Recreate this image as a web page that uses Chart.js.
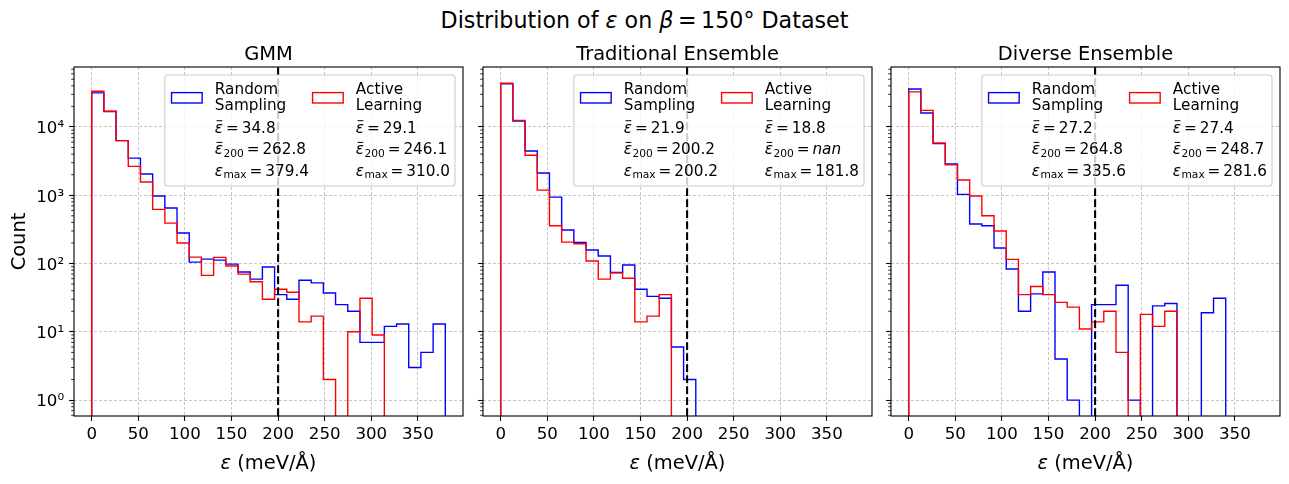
<!DOCTYPE html>
<html>
<head>
<meta charset="utf-8">
<script src="https://cdn.jsdelivr.net/npm/chart.js@4/dist/chart.umd.min.js"></script>
<style>
html, body { margin: 0; padding: 0; background: #fff; }
#wrap { position: relative; width: 1289px; height: 484px; overflow: hidden; background: #fff; font-family: "DejaVu Sans"; }
#wrap canvas { position: absolute; left: 0; top: 0; }
#sup { position: absolute; left: 0; top: 6.6px; width: 1289px; text-align: center; font-size: 22.2px; line-height: 26px; color: #000; white-space: nowrap; }
#sup .eq { margin: 0 4.5px; }
</style>
</head>
<body>
<div id="wrap">
  <div id="sup">Distribution of <i>ε</i> on <i>β</i><span class="eq">=</span>150° Dataset</div>
  <canvas id="c0" width="1289" height="484"></canvas>
  <canvas id="c1" width="1289" height="484"></canvas>
  <canvas id="c2" width="1289" height="484"></canvas>
</div>
<script>
// ---------------- data ----------------
const BIN_EDGES = [0, 13.08, 26.17, 39.25, 52.33, 65.41, 78.50, 91.58, 104.66, 117.74, 130.83,
  143.91, 156.99, 170.08, 183.16, 196.24, 209.32, 222.41, 235.49, 248.57, 261.66, 274.74,
  287.82, 300.90, 313.99, 327.07, 340.15, 353.23, 366.32, 379.40];

const PANEL_TITLES = ['GMM', 'Traditional Ensemble', 'Diverse Ensemble'];
const SERIES_NAMES = [['Random', 'Sampling'], ['Active', 'Learning']];
const SERIES_COLORS = ['#0000ff', '#ff0000'];

// counts per bin (29 bins)
const GMM_RANDOM = [31500, 16800, 6300, 3500, 2050, 975, 650, 280, 105, 116, 112, 98, 75, 59, 89,
  35, 30, 57, 52, 37, 25, 20, 7, 7, 12, 13, 3, 5, 13];
const GMM_ACTIVE = [33300, 17000, 6300, 2650, 1560, 620, 390, 200, 124, 67, 123, 92, 70, 54, 30,
  42, 38, 14, 17, 2, 0, 10, 31, 9, 0, 0, 0, 0, 0];
const TRAD_RANDOM = [42700, 12250, 4450, 2120, 940, 310, 204, 158, 129, 74, 95, 42, 33, 31, 6,
  2, 0, 0, 0, 0, 0, 0, 0, 0, 0, 0, 0, 0, 0];
const TRAD_ACTIVE = [43600, 12500, 3850, 1190, 358, 206, 195, 109, 59, 73, 61, 14, 17, 35, 0,
  0, 0, 0, 0, 0, 0, 0, 0, 0, 0, 0, 0, 0, 0];
const DIV_RANDOM = [36000, 16000, 5700, 2870, 1030, 380, 358, 169, 83, 20, 36, 75, 4, 1, 0,
  25, 25, 48, 1, 0, 24, 26, 0, 0, 19, 31, 0, 0, 0];
const DIV_ACTIVE = [32600, 17500, 5830, 2780, 1670, 975, 500, 299, 115, 35, 46, 35, 27, 23, 11,
  14, 20, 5, 0, 18, 12, 20, 0, 0, 0, 0, 0, 0, 0];

// legend statistics: [mean, mean above 200, max]
const GMM_STATS_RANDOM = ['34.8', '262.8', '379.4'];
const GMM_STATS_ACTIVE = ['29.1', '246.1', '310.0'];
const TRAD_STATS_RANDOM = ['21.9', '200.2', '200.2'];
const TRAD_STATS_ACTIVE = ['18.8', 'nan', '181.8'];
const DIV_STATS_RANDOM = ['27.2', '264.8', '335.6'];
const DIV_STATS_ACTIVE = ['27.4', '248.7', '281.6'];

const THRESHOLD = 200;
const X_TICKS = [0, 50, 100, 150, 200, 250, 300, 350];
const X_TICK_LABELS = ['0', '50', '100', '150', '200', '250', '300', '350'];
const Y_TICKS = [1, 10, 100, 1000, 10000];
const Y_TICK_LABELS = ['10\u2070', '10\u00b9', '10\u00b2', '10\u00b3', '10\u2074'];

const X_MIN = -18.97, X_MAX = 398.37;
const Y_MIN = 0.585, Y_MAX = 75500;

// ---------------- layout ----------------
const FONT = '"DejaVu Sans"';
const TICK_PX = 16.67, LEGEND_PX = 15.28, TITLE_PX = 19.44;
const PANELS = [
  {L: 74, R: 463, random: GMM_RANDOM, active: GMM_ACTIVE, sr: GMM_STATS_RANDOM, sa: GMM_STATS_ACTIVE},
  {L: 483, R: 872, random: TRAD_RANDOM, active: TRAD_ACTIVE, sr: TRAD_STATS_RANDOM, sa: TRAD_STATS_ACTIVE},
  {L: 891, R: 1280, random: DIV_RANDOM, active: DIV_ACTIVE, sr: DIV_STATS_RANDOM, sa: DIV_STATS_ACTIVE}
];
const TOP = 67, BOTTOM = 416, W = 1289, H = 484;
const Y_AXIS_W = 60, X_AXIS_H = 40;
const FLOOR = Y_MIN / 10;

function stepPoints(counts) {
  const pts = [{x: BIN_EDGES[0], y: FLOOR}];
  counts.forEach((c, i) => pts.push({x: BIN_EDGES[i], y: c > 0 ? c : FLOOR}));
  pts.push({x: BIN_EDGES[counts.length], y: FLOOR});
  return pts;
}

const SUBS = ['', '200', 'max'];
const BARS = [true, true, false];

function mathLine(ctx, x, y, F, sub, bar, val, draw) {
  const fN = `${F}px ${FONT}`, fI = `italic ${F}px ${FONT}`, fS = `${(F * 0.7).toFixed(2)}px ${FONT}`;
  const gap = 2.9;
  let cx = x;
  ctx.font = fI;
  const we = ctx.measureText('\u03b5').width;
  if (draw) {
    ctx.fillText('\u03b5', cx, y);
    if (bar) {
      ctx.save();
      ctx.strokeStyle = '#000'; ctx.lineWidth = 1.0;
      ctx.beginPath(); ctx.moveTo(cx + 1.7, y - 12.0); ctx.lineTo(cx + 7.5, y - 12.0); ctx.stroke();
      ctx.restore();
    }
  }
  cx += we;
  if (sub) {
    ctx.font = fS;
    const ws = ctx.measureText(sub).width;
    if (draw) ctx.fillText(sub, cx + 0.3, y + 2.3);
    cx += ws + 0.3;
  }
  cx += gap;
  ctx.font = fN;
  if (draw) ctx.fillText('=', cx, y);
  cx += ctx.measureText('=').width + gap;
  ctx.font = (val === 'nan') ? fI : fN;
  if (draw) ctx.fillText(val, cx, y);
  cx += ctx.measureText(val).width;
  return cx - x;
}

function roundRectPath(ctx, x, y, w, h, r) {
  ctx.beginPath();
  ctx.moveTo(x + r, y);
  ctx.lineTo(x + w - r, y); ctx.arcTo(x + w, y, x + w, y + r, r);
  ctx.lineTo(x + w, y + h - r); ctx.arcTo(x + w, y + h, x + w - r, y + h, r);
  ctx.lineTo(x + r, y + h); ctx.arcTo(x, y + h, x, y + h - r, r);
  ctx.lineTo(x, y + r); ctx.arcTo(x, y, x + r, y, r);
  ctx.closePath();
}

function colWidth(ctx, F, names, stats) {
  ctx.font = `${F}px ${FONT}`;
  let w = Math.max(ctx.measureText(names[0]).width, ctx.measureText(names[1]).width);
  stats.forEach((v, i) => { w = Math.max(w, mathLine(ctx, 0, 0, F, SUBS[i], BARS[i], v, false)); });
  return w;
}

function drawLegend(chart, o) {
  const ctx = chart.ctx, a = chart.chartArea, F = LEGEND_PX;
  ctx.save();
  ctx.textAlign = 'left'; ctx.textBaseline = 'alphabetic';
  const c1w = colWidth(ctx, F, SERIES_NAMES[0], o.sr);
  const c2w = colWidth(ctx, F, SERIES_NAMES[1], o.sa);
  const hx1 = 6.7, tx1 = hx1 + 43.3, hx2 = tx1 + c1w + 3.6, tx2 = hx2 + 43.3;
  const w = tx2 + c2w + 5, h = 111;
  const x0 = a.right - 8 - w, y0 = a.top + 8;
  roundRectPath(ctx, x0, y0, w, h, 3);
  ctx.fillStyle = 'rgba(255,255,255,0.8)'; ctx.fill();
  ctx.strokeStyle = '#cccccc'; ctx.lineWidth = 1.1; ctx.stroke();
  const cols = [
    {hx: hx1, tx: tx1, color: SERIES_COLORS[0], name: SERIES_NAMES[0], st: o.sr},
    {hx: hx2, tx: tx2, color: SERIES_COLORS[1], name: SERIES_NAMES[1], st: o.sa}
  ];
  cols.forEach(c => {
    ctx.strokeStyle = c.color; ctx.lineWidth = 1.39;
    ctx.strokeRect(x0 + c.hx, y0 + 17.6, 30.6, 10.4);
    const tx = x0 + c.tx;
    ctx.fillStyle = '#000'; ctx.font = `${F}px ${FONT}`;
    ctx.fillText(c.name[0], tx, y0 + 19.3);
    ctx.fillText(c.name[1], tx, y0 + 35);
    mathLine(ctx, tx, y0 + 57.7, F, SUBS[0], BARS[0], c.st[0], true);
    mathLine(ctx, tx, y0 + 79.4, F, SUBS[1], BARS[1], c.st[1], true);
    mathLine(ctx, tx, y0 + 101, F, SUBS[2], BARS[2], c.st[2], true);
  });
  ctx.restore();
}

const decoPlugin = {
  id: 'deco',
  afterDatasetsDraw(chart, args, o) { drawLegend(chart, o); },
  afterDraw(chart, args, o) {
    const ctx = chart.ctx, a = chart.chartArea, ys = chart.scales.y;
    ctx.save();
    // minor ticks on log axis
    ctx.strokeStyle = '#000'; ctx.lineWidth = 0.83;
    for (let e = -1; e <= 4; e++) {
      for (let m = 2; m <= 9; m++) {
        const v = m * Math.pow(10, e);
        if (v < ys.min || v > ys.max) continue;
        const py = ys.getPixelForValue(v);
        ctx.beginPath(); ctx.moveTo(a.left, py); ctx.lineTo(a.left - 2.8, py); ctx.stroke();
      }
    }
    // frame
    ctx.lineWidth = 1.11; ctx.strokeStyle = '#000';
    ctx.strokeRect(a.left, a.top, a.right - a.left, a.bottom - a.top);
    // subplot title
    ctx.fillStyle = '#000'; ctx.textAlign = 'center'; ctx.textBaseline = 'alphabetic';
    ctx.font = `${TITLE_PX}px ${FONT}`;
    ctx.fillText(o.title, (a.left + a.right) / 2, 60);
    // x label
    ctx.textAlign = 'left';
    ctx.font = `italic ${TITLE_PX}px ${FONT}`;
    const w1 = ctx.measureText('\u03b5').width;
    ctx.font = `${TITLE_PX}px ${FONT}`;
    const rest = ' (meV/\u00c5)';
    const w2 = ctx.measureText(rest).width;
    const x0 = (a.left + a.right) / 2 - (w1 + w2) / 2;
    ctx.font = `italic ${TITLE_PX}px ${FONT}`; ctx.fillText('\u03b5', x0, 469);
    ctx.font = `${TITLE_PX}px ${FONT}`; ctx.fillText(rest, x0 + w1, 469);
    // y label
    if (o.ylabel) {
      ctx.translate(25.3, (a.top + a.bottom) / 2);
      ctx.rotate(-Math.PI / 2);
      ctx.textAlign = 'center';
      ctx.fillText(o.ylabel, 0, 0);
    }
    ctx.restore();
  }
};

PANELS.forEach((p, k) => {
  const datasets = [
    {label: 'threshold', data: [{x: THRESHOLD, y: Y_MIN}, {x: THRESHOLD, y: Y_MAX}],
      borderColor: '#000', borderWidth: 2.08, borderDash: [7.7, 3.3], pointRadius: 0, fill: false},
    {label: 'Active Learning', data: stepPoints(p.active), stepped: 'before',
      borderColor: SERIES_COLORS[1], borderWidth: 1.39, pointRadius: 0, fill: false},
    {label: 'Random Sampling', data: stepPoints(p.random), stepped: 'before',
      borderColor: SERIES_COLORS[0], borderWidth: 1.39, pointRadius: 0, fill: false}
  ];
  const gridOpts = {color: '#b8b8b8', lineWidth: 0.8, drawTicks: true, tickLength: 4.86, tickColor: '#000', tickWidth: 1.11, tickBorderDash: []};
  new Chart(document.getElementById('c' + k), {
    type: 'line',
    data: {datasets},
    plugins: [decoPlugin],
    options: {
      responsive: false,
      animation: false,
      events: [],
      layout: {autoPadding: false, padding: {left: p.L - Y_AXIS_W, right: W - p.R, top: TOP, bottom: H - BOTTOM - X_AXIS_H}},
      plugins: {
        legend: {display: false}, tooltip: {enabled: false}, title: {display: false},
        deco: {title: PANEL_TITLES[k], ylabel: k === 0 ? 'Count' : '', sr: p.sr, sa: p.sa}
      },
      scales: {
        x: {
          type: 'linear', min: X_MIN, max: X_MAX,
          afterBuildTicks: s => { s.ticks = X_TICKS.map(v => ({value: v})); },
          afterFit: s => { s.height = X_AXIS_H; },
          ticks: {autoSkip: false, maxRotation: 0, minRotation: 0, padding: 3.5, color: '#000',
            font: {size: TICK_PX, family: 'DejaVu Sans'}, callback: (v, i) => X_TICK_LABELS[i]},
          grid: gridOpts,
          border: {display: false, dash: [3, 2]}
        },
        y: {
          type: 'logarithmic', min: Y_MIN, max: Y_MAX,
          afterBuildTicks: s => { s.ticks = Y_TICKS.map(v => ({value: v})); },
          afterFit: s => { s.width = Y_AXIS_W; },
          ticks: {display: k === 0, padding: 5, labelOffset: 2, color: '#000',
            font: {size: TICK_PX, family: 'DejaVu Sans'}, callback: (v, i) => Y_TICK_LABELS[i]},
          grid: gridOpts,
          border: {display: false, dash: [3, 2]}
        }
      }
    }
  });
});
</script>
</body>
</html>
